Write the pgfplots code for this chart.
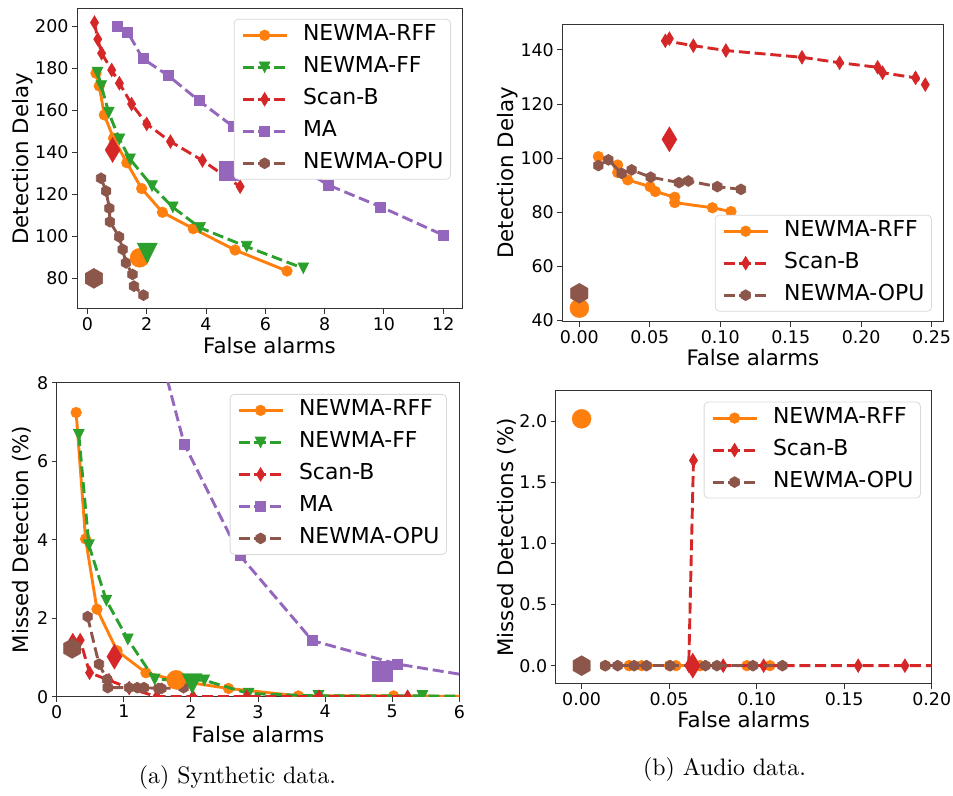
\documentclass[border=0pt]{standalone}
\usepackage{fontspec}
\usepackage{pgfplots}
\pgfplotsset{compat=1.18}
\newfontfamily\dv{DejaVu Sans}
\definecolor{cO}{HTML}{FF7F0E}
\definecolor{cG}{HTML}{2CA02C}
\definecolor{cR}{HTML}{D62728}
\definecolor{cP}{HTML}{9467BD}
\definecolor{cB}{HTML}{8C564B}

\pgfdeclareplotmark{hexa}{%
  \pgfpathmoveto{\pgfpointpolar{90}{\pgfplotmarksize}}%
  \pgfpathlineto{\pgfpointpolar{150}{\pgfplotmarksize}}%
  \pgfpathlineto{\pgfpointpolar{210}{\pgfplotmarksize}}%
  \pgfpathlineto{\pgfpointpolar{270}{\pgfplotmarksize}}%
  \pgfpathlineto{\pgfpointpolar{330}{\pgfplotmarksize}}%
  \pgfpathlineto{\pgfpointpolar{30}{\pgfplotmarksize}}%
  \pgfpathclose\pgfusepathqfillstroke}
\pgfdeclareplotmark{tdown}{%
  \pgfpathmoveto{\pgfpoint{0pt}{-\pgfplotmarksize}}%
  \pgfpathlineto{\pgfpoint{-\pgfplotmarksize}{\pgfplotmarksize}}%
  \pgfpathlineto{\pgfpoint{\pgfplotmarksize}{\pgfplotmarksize}}%
  \pgfpathclose\pgfusepathqfillstroke}
\pgfdeclareplotmark{tdiam}{%
  \pgfpathmoveto{\pgfpoint{0pt}{\pgfplotmarksize}}%
  \pgfpathlineto{\pgfpoint{0.6\pgfplotmarksize}{0pt}}%
  \pgfpathlineto{\pgfpoint{0pt}{-\pgfplotmarksize}}%
  \pgfpathlineto{\pgfpoint{-0.6\pgfplotmarksize}{0pt}}%
  \pgfpathclose\pgfusepathqfillstroke}

\pgfplotsset{
  base/.style={scale only axis, clip marker paths=true, tick pos=left, tick align=outside,
    major tick length=5bp,
    axis line style={line width=1bp, black!80},
    tick style={line width=1bp, black!80},
    tick label style={font=\dv\fontsize{17.5}{20}\selectfont},
    label style={font=\dv\fontsize{21.4}{25}\selectfont},
    /pgf/number format/assume math mode=true,
    legend cell align=left,
    legend style={font=\dv\fontsize{22}{25}\selectfont, draw=black!15, line width=0.8bp,
      rounded corners=4bp, fill=white, fill opacity=1, text opacity=1,
      inner xsep=7bp, inner ysep=6bp, row sep=12bp,
      nodes={inner sep=0bp, text height=15.5bp, text depth=4.5bp},
      /tikz/every odd column/.append style={column sep=15bp}},
    legend image code/.code={\draw[mark repeat=2, mark phase=2, opacity=1]
      plot coordinates {(0bp,0bp) (22bp,0bp) (44bp,0bp)};},
  },
  rff/.style={color=cO, solid, line width=2.9bp, mark=*, mark size=5.3bp,
    mark options={solid, line width=0.6bp, fill=cO}},
  ff/.style={color=cG, line width=2.9bp, dash pattern=on 11bp off 4.8bp, mark=tdown, mark size=5.4bp,
    mark options={solid, line width=0.6bp, fill=cG}},
  scb/.style={color=cR, line width=2.9bp, dash pattern=on 11bp off 4.8bp, mark=tdiam, mark size=6.8bp,
    mark options={solid, line width=0.6bp, fill=cR}},
  ma/.style={color=cP, line width=2.9bp, dash pattern=on 11bp off 4.8bp, mark=square*, mark size=5bp,
    mark options={solid, line width=0.6bp, fill=cP}},
  opu/.style={color=cB, line width=2.9bp, dash pattern=on 11bp off 4.8bp, mark=hexa, mark size=5.5bp,
    mark options={solid, line width=0.6bp, fill=cB}},
  big/.style={only marks, forget plot, mark options={solid, line width=0.6bp}},
}

\begin{document}
\begin{tikzpicture}
\path[use as bounding box] (0bp,0bp) rectangle (953bp,796bp);

% ---------------- top left ----------------
\begin{axis}[base, at={(77bp,487bp)}, anchor=south west, width=385bp, height=300bp,
  xmin=-0.35, xmax=12.63, ymin=65.4, ymax=208.4,
  xtick={0,2,4,6,8,10,12}, ytick={80,100,120,140,160,180,200},
  xlabel={False alarms}, ylabel={Detection Delay},
  xlabel style={at={(axis description cs:0.5,-0.15)}, anchor=base},
  ylabel style={at={(axis description cs:-0.1265,0.5)}, anchor=base},
  legend style={at={(0.971,0.967)}, anchor=north east}]
\addplot[rff] coordinates {(0.29,177.8)(0.40,171.7)(0.57,157.9)(0.88,146.8)(1.33,135.1)(1.83,122.8)(2.53,111.5)(3.57,103.7)(4.98,93.5)(6.73,83.5)};
\addlegendentry{NEWMA-RFF}
\addplot[ff] coordinates {(0.34,178.1)(0.47,171.7)(0.72,159.0)(1.08,146.3)(1.44,136.8)(2.18,124.0)(2.88,113.9)(3.80,104.1)(5.37,95.1)(7.28,84.8)};
\addlegendentry{NEWMA-FF}
\addplot[scb] coordinates {(0.24,201.9)(0.35,194.0)(0.48,187.3)(0.82,179.3)(1.08,173.0)(1.49,163.1)(2.00,153.6)(2.80,145.2)(3.88,136.2)(5.15,123.7)};
\addlegendentry{Scan-B}
\addplot[ma] coordinates {(1.01,200.0)(1.36,197.3)(1.87,184.7)(2.73,176.6)(3.76,164.7)(4.92,152.3)(6.45,139.0)(8.12,124.5)(9.89,114.1)(12.0,100.6)};
\addlegendentry{MA}
\addplot[opu] coordinates {(0.46,127.7)(0.63,121.6)(0.74,113.4)(0.76,107.0)(1.07,99.8)(1.19,93.8)(1.30,87.4)(1.52,81.9)(1.57,76.3)(1.89,72.0)};
\addlegendentry{NEWMA-OPU}
\addplot[big, cO, mark=*, mark size=9.5bp, mark options={fill=cO}] coordinates {(1.76,89.8)};
\addplot[big, cG, mark=tdown, mark size=10bp, mark options={fill=cG}] coordinates {(2.02,92.0)};
\addplot[big, cR, mark=tdiam, mark size=12.5bp, mark options={fill=cR}] coordinates {(0.85,141.2)};
\addplot[big, cP, mark=square*, mark size=9.5bp, mark options={fill=cP}] coordinates {(4.78,131.3)};
\addplot[big, cB, mark=hexa, mark size=10bp, mark options={fill=cB}] coordinates {(0.22,80.0)};
\end{axis}

% ---------------- top right ----------------
\begin{axis}[base, at={(562.3bp,474.3bp)}, anchor=south west, width=381bp, height=297.4bp,
  xmin=-0.0121, xmax=0.2583, ymin=39.6, ymax=149.5,
  xtick={0,0.05,0.10,0.15,0.20,0.25}, ytick={40,60,80,100,120,140},
  scaled x ticks=false,
  xticklabel style={/pgf/number format/.cd, fixed, fixed zerofill, precision=2},
  xlabel={False alarms}, ylabel={Detection Delay},
  xlabel style={at={(axis description cs:0.5,-0.146)}, anchor=base},
  ylabel style={at={(axis description cs:-0.1286,0.5)}, anchor=base},
  legend style={at={(0.970,0.034)}, anchor=south east}]
\addplot[rff] coordinates {(0.0135,100.6)(0.0272,97.5)(0.0272,94.7)(0.0343,92.0)(0.0502,89.5)(0.0539,87.7)(0.0677,85.6)(0.0677,83.6)(0.0944,81.7)(0.1076,80.3)};
\addlegendentry{NEWMA-RFF}
\addplot[scb] coordinates {(0.0639,144.2)(0.0610,143.4)(0.0809,141.6)(0.1040,139.8)(0.1580,137.3)(0.1847,135.3)(0.2117,133.6)(0.2152,131.6)(0.2386,129.7)(0.2455,127.2)};
\addlegendentry{Scan-B}
\addplot[opu] coordinates {(0.0135,97.3)(0.0206,99.4)(0.0300,94.4)(0.0371,95.7)(0.0506,93.0)(0.0707,91.0)(0.0773,91.6)(0.0979,89.5)(0.1147,88.5)};
\addlegendentry{NEWMA-OPU}
\addplot[big, cO, mark=*, mark size=9.5bp, mark options={fill=cO}] coordinates {(0,44.6)};
\addplot[big, cR, mark=tdiam, mark size=12.5bp, mark options={fill=cR}] coordinates {(0.0639,107.0)};
\addplot[big, cB, mark=hexa, mark size=10bp, mark options={fill=cB}] coordinates {(0,50.1)};
\end{axis}

% ---------------- bottom left ----------------
\begin{axis}[base, at={(56.7bp,99.3bp)}, anchor=south west, width=402.6bp, height=314bp,
  xmin=0, xmax=6, ymin=0, ymax=8,
  xtick={0,1,2,3,4,5,6}, ytick={0,2,4,6,8},
  xlabel={False alarms}, ylabel={Missed Detection (\%)},
  xlabel style={at={(axis description cs:0.5,-0.1465)}, anchor=base},
  ylabel style={at={(axis description cs:-0.0705,0.5)}, anchor=base},
  legend style={at={(0.969,0.964)}, anchor=north east}]
\addplot[rff] coordinates {(0.29,7.24)(0.43,4.02)(0.60,2.23)(0.90,1.17)(1.33,0.61)(1.83,0.40)(2.56,0.21)(3.60,0.02)(5.02,0.02)(6.73,0.0)};
\addlegendentry{NEWMA-RFF}
\addplot[ff] coordinates {(0.33,6.67)(0.48,3.86)(0.74,2.45)(1.06,1.46)(1.46,0.44)(2.20,0.42)(2.86,0.08)(3.90,0.02)(5.45,0.02)(7.28,0.0)};
\addlegendentry{NEWMA-FF}
\addplot[scb] coordinates {(0.24,1.44)(0.35,1.44)(0.49,0.61)(0.78,0.42)(1.08,0.22)(1.49,0.0)(2.03,0.0)(2.83,0.0)(3.91,0.0)(5.23,0.0)};
\addlegendentry{Scan-B}
\addplot[ma] coordinates {(1.01,14.0)(1.36,9.95)(1.90,6.44)(2.73,3.6)(3.81,1.43)(5.08,0.83)(6.45,0.45)(8.12,0.2)(9.89,0.1)(12.0,0.05)};
\addlegendentry{MA}
\addplot[opu] coordinates {(0.46,2.04)(0.63,0.83)(0.75,0.44)(0.76,0.23)(1.08,0.23)(1.20,0.23)(1.30,0.23)(1.52,0.21)(1.56,0.21)(1.89,0.23)};
\addlegendentry{NEWMA-OPU}
\addplot[big, cO, mark=*, mark size=9.5bp, mark options={fill=cO}] coordinates {(1.78,0.43)};
\addplot[big, cG, mark=tdown, mark size=10bp, mark options={fill=cG}] coordinates {(2.02,0.33)};
\addplot[big, cR, mark=tdiam, mark size=12.5bp, mark options={fill=cR}] coordinates {(0.86,1.02)};
\addplot[big, cP, mark=square*, mark size=10bp, mark options={fill=cP}] coordinates {(4.85,0.64)};
\addplot[big, cB, mark=hexa, mark size=10bp, mark options={fill=cB}] coordinates {(0.23,1.23)};
\end{axis}

% ---------------- bottom right ----------------
\begin{axis}[base, at={(555.7bp,112bp)}, anchor=south west, width=376bp, height=293.3bp,
  xmin=-0.0148, xmax=0.2, ymin=-0.15, ymax=2.25,
  xtick={0,0.05,0.10,0.15,0.20}, ytick={0,0.5,1.0,1.5,2.0},
  scaled x ticks=false, scaled y ticks=false,
  xticklabel style={/pgf/number format/.cd, fixed, fixed zerofill, precision=2},
  yticklabel style={/pgf/number format/.cd, fixed, fixed zerofill, precision=1},
  xlabel={False alarms}, ylabel={Missed Detections (\%)},
  xlabel style={at={(axis description cs:0.5,-0.149)}, anchor=base},
  ylabel style={at={(axis description cs:-0.1128,0.5)}, anchor=base},
  legend style={at={(0.971,0.9625)}, anchor=north east}]
\addplot[rff] coordinates {(0.0135,0)(0.0272,0)(0.0272,0)(0.0343,0)(0.0502,0)(0.0539,0)(0.0677,0)(0.0677,0)(0.0944,0)(0.1076,0)};
\addlegendentry{NEWMA-RFF}
\addplot[scb] coordinates {(0.0639,1.68)(0.0612,0)(0.0809,0)(0.1040,0)(0.1580,0)(0.1847,0)(0.2117,0)(0.2152,0)(0.2386,0)(0.2455,0)};
\addlegendentry{Scan-B}
\addplot[opu] coordinates {(0.0135,0)(0.0206,0)(0.0300,0)(0.0371,0)(0.0506,0)(0.0707,0)(0.0773,0)(0.0979,0)(0.1147,0)};
\addlegendentry{NEWMA-OPU}
\addplot[big, cO, mark=*, mark size=9.5bp, mark options={fill=cO}] coordinates {(0,2.02)};
\addplot[big, cR, mark=tdiam, mark size=12.5bp, mark options={fill=cR}] coordinates {(0.0635,0)};
\addplot[big, cB, mark=hexa, mark size=10bp, mark options={fill=cB}] coordinates {(0,0)};
\end{axis}

\node[scale=2.39, anchor=base] at (237.5bp,12bp) {\fontsize{10}{12}\selectfont (a) Synthetic data.};
\node[scale=2.39, anchor=base] at (724.5bp,20bp) {\fontsize{10}{12}\selectfont (b) Audio data.};
\end{tikzpicture}
\end{document}
